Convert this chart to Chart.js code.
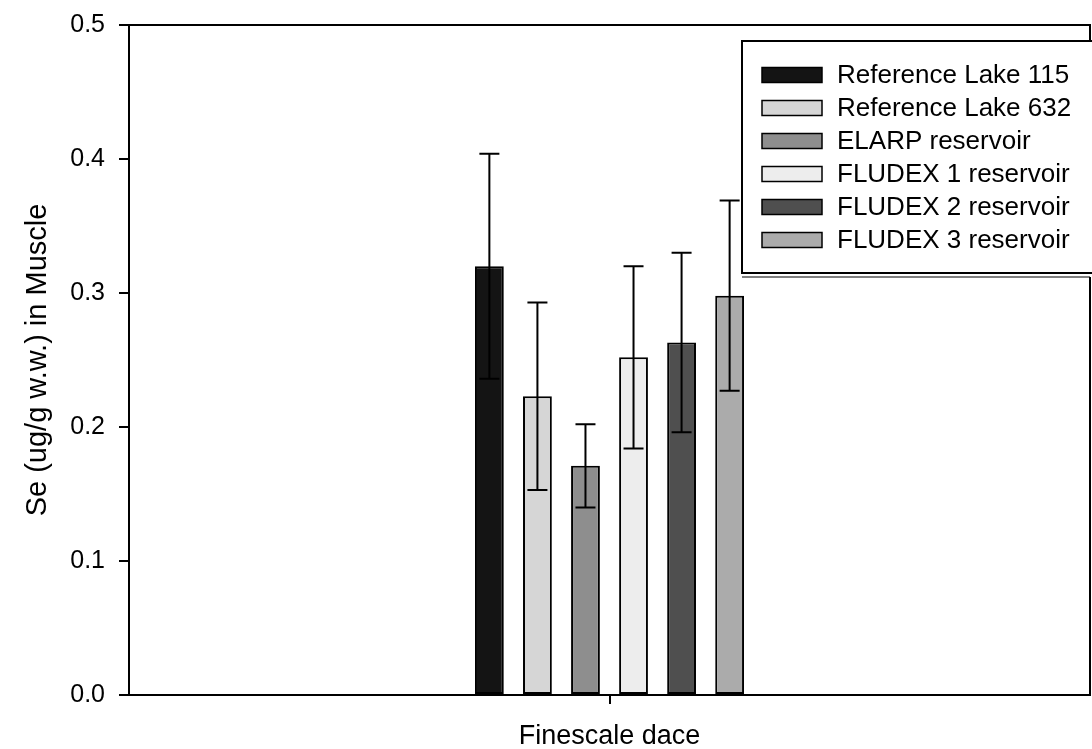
<!DOCTYPE html>
<html>
<head>
<meta charset="utf-8">
<script src="https://cdn.jsdelivr.net/npm/chart.js@4.4.0/dist/chart.umd.min.js"></script>
<style>
  html, body { margin: 0; padding: 0; background: #fff; }
  #wrap { width: 1092px; height: 749px; }
</style>
</head>
<body>
<div id="wrap"><canvas id="chart" width="1092" height="749"></canvas></div>
<script>
//// Data
const categories = ["Finescale dace"];
const seriesNames = ["Reference Lake 115", "Reference Lake 632", "ELARP reservoir",
    "FLUDEX 1 reservoir", "FLUDEX 2 reservoir", "FLUDEX 3 reservoir"];
const seMeans = [0.320, 0.223, 0.171, 0.252, 0.263, 0.298];
const seErrors = [0.084, 0.070, 0.031, 0.068, 0.067, 0.071];
const barColors = ['#141414', '#d6d6d6', '#8e8e8e', '#ededed', '#4f4f4f', '#ababab'];
const yTicks = [0.0, 0.1, 0.2, 0.3, 0.4, 0.5];

const FONT = "'Liberation Sans', Arial, sans-serif";

// Error bars drawn from the scale
const errorBars = {
    id: 'errorBars',
    afterDatasetsDraw(chart) {
        const ctx = chart.ctx;
        const y = chart.scales.y;
        ctx.save();
        ctx.strokeStyle = '#000';
        ctx.lineWidth = 2;
        chart.data.datasets.forEach((ds, i) => {
            const meta = chart.getDatasetMeta(i);
            meta.data.forEach((bar, j) => {
                const v = ds.data[j];
                const e = ds.errors[j];
                const top = y.getPixelForValue(v + e);
                const bot = y.getPixelForValue(v - e);
                ctx.beginPath();
                ctx.moveTo(bar.x, top);
                ctx.lineTo(bar.x, bot);
                ctx.moveTo(bar.x - 10, top);
                ctx.lineTo(bar.x + 10, top);
                ctx.moveTo(bar.x - 10, bot);
                ctx.lineTo(bar.x + 10, bot);
                ctx.stroke();
            });
        });
        ctx.restore();
    }
};

// Frame (top/right) and boxed legend
const frameAndLegend = {
    id: 'frameAndLegend',
    afterDraw(chart) {
        const ctx = chart.ctx;
        const a = chart.chartArea;
        ctx.save();
        ctx.strokeStyle = '#000';
        ctx.lineWidth = 2;
        ctx.beginPath();
        ctx.moveTo(a.left, a.top);
        ctx.lineTo(a.right, a.top);
        ctx.lineTo(a.right, a.bottom);
        ctx.stroke();

        // legend box
        const bx = 742, by = 41, bw = 360, bh = 232;
        ctx.fillStyle = '#fff';
        ctx.fillRect(bx, by, bw, bh + 4);
        ctx.strokeRect(bx, by, bw, bh);
        ctx.lineWidth = 1;
        ctx.beginPath();
        ctx.moveTo(bx, by + bh + 4);
        ctx.lineTo(a.right, by + bh + 4);
        ctx.stroke();

        ctx.font = '26px ' + FONT;
        ctx.textBaseline = 'middle';
        ctx.textAlign = 'left';
        chart.data.datasets.forEach((ds, i) => {
            const cy = 75 + i * 33;
            ctx.fillStyle = ds.backgroundColor;
            ctx.fillRect(762, cy - 7.5, 60, 15);
            ctx.lineWidth = 1.5;
            ctx.strokeStyle = '#000';
            ctx.strokeRect(762, cy - 7.5, 60, 15);
            ctx.fillStyle = '#000';
            ctx.fillText(ds.label, 837, cy + 1);
        });
        ctx.restore();
    }
};

const chartInitial = () => {
    const canvas = document.getElementById('chart');

    const datasets = seriesNames.map((name, i) => ({
        label: name,
        data: [seMeans[i]],
        errors: [seErrors[i]],
        backgroundColor: barColors[i],
        borderColor: '#000',
        borderWidth: 2,
        borderSkipped: false,
        categoryPercentage: 0.3,
        barPercentage: 0.6
    }));

    new Chart(canvas, {
        type: 'bar',
        data: { labels: categories, datasets: datasets },
        options: {
            responsive: false,
            animation: false,
            layout: { padding: { top: 25, right: 2, left: 0, bottom: 0 } },
            plugins: {
                legend: { display: false },
                tooltip: { enabled: false }
            },
            scales: {
                x: {
                    grid: { display: true, drawOnChartArea: false, drawTicks: true, tickLength: 9, color: '#000', lineWidth: 2, offset: false },
                    border: { display: true, color: '#000', width: 2 },
                    ticks: { color: '#000', font: { family: FONT, size: 27 }, padding: 16 },
                    afterFit(scale) { scale.height = 54; }
                },
                y: {
                    min: 0,
                    max: 0.5,
                    afterBuildTicks(scale) { scale.ticks = yTicks.map(v => ({ value: v })); },
                    grid: { display: true, drawOnChartArea: false, drawTicks: true, tickLength: 10, color: '#000', lineWidth: 2 },
                    border: { display: true, color: '#000', width: 2 },
                    ticks: {
                        color: '#000',
                        font: { family: FONT, size: 25, lineHeight: 1 },
                        padding: 14,
                        callback: v => Number(v).toFixed(1)
                    },
                    title: {
                        display: true,
                        text: 'Se (ug/g w.w.) in Muscle',
                        color: '#000',
                        font: { family: FONT, size: 29 },
                        padding: { top: 21, bottom: 0 }
                    },
                    afterFit(scale) {
                        scale.width = 129;
                        scale.paddingTop = 0;
                    }
                }
            }
        },
        plugins: [errorBars, frameAndLegend]
    });
}

//// Executions state
window.onload = () => {
    chartInitial();
}
</script>
</body>
</html>
